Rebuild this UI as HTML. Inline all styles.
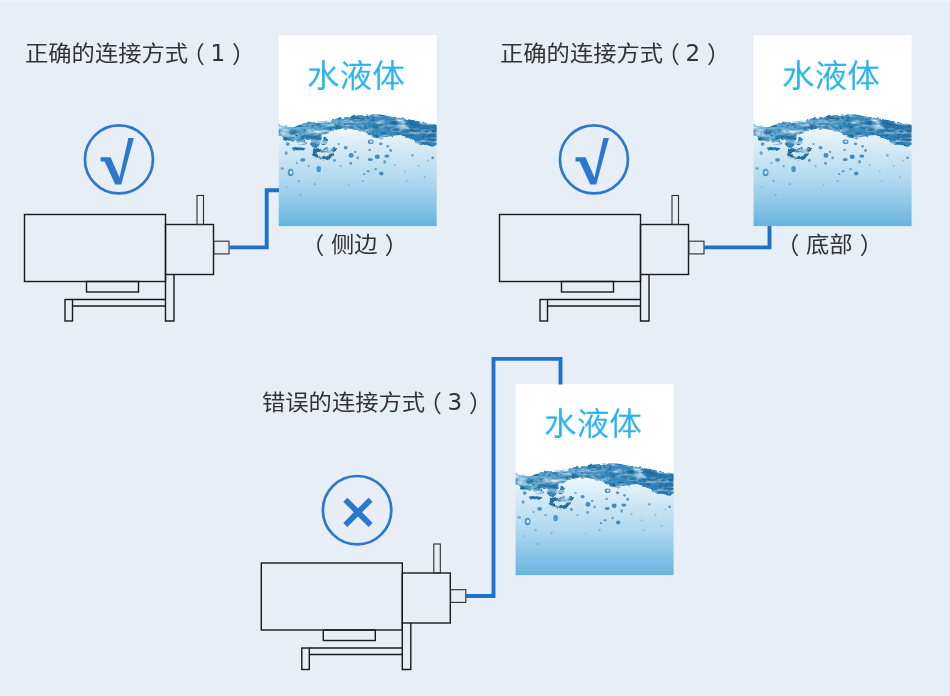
<!DOCTYPE html>
<html lang="zh-CN">
<head>
<meta charset="utf-8">
<title>连接方式</title>
<style>
html,body{margin:0;padding:0;}
body{width:950px;height:696px;overflow:hidden;background:#e8eef6;position:relative;
  font-family:"Liberation Sans","Noto Sans CJK SC",sans-serif;color:#333;}
#topstrip{position:absolute;left:0;top:0;width:950px;height:2px;background:#edf1f8;}
svg#art{position:absolute;left:0;top:0;}
.xx{font-family:"DejaVu Sans",sans-serif;font-weight:bold;font-size:50px;fill:#2b78d0;text-anchor:middle;}
.title,.cap,.liq{will-change:transform;}
.title{position:absolute;font-size:23.3px;line-height:30px;white-space:nowrap;color:#333;letter-spacing:0;}
.zh{display:inline-block;transform:scaleY(0.93);transform-origin:50% 55%;}
.lp{display:inline-block;margin-left:-6.5px;position:relative;top:1.5px;}
.dg{display:inline-block;font-family:"DejaVu Sans",sans-serif;font-size:23px;margin-left:5.5px;}
.rp{display:inline-block;margin-left:7px;position:relative;top:1.5px;}
.cl{display:inline-block;margin-right:6.7px;position:relative;top:2px;}
.cr{display:inline-block;margin-left:7.1px;position:relative;top:2px;}
.cap{position:absolute;font-size:23.3px;line-height:30px;white-space:nowrap;color:#333;}
.liq{position:absolute;font-size:32.7px;transform:scaleY(0.965);transform-origin:50% 85%;line-height:40px;width:158px;text-align:center;color:#2bb3ee;white-space:nowrap;}
</style>
</head>
<body>
<div id="topstrip"></div>
<svg id="art" width="950" height="696" viewBox="0 0 950 696">
  <defs>
    <linearGradient id="wg" x1="0" y1="0" x2="0" y2="1">
      <stop offset="0" stop-color="#ffffff"/>
      <stop offset="0.45" stop-color="#ffffff"/>
      <stop offset="0.52" stop-color="#e6f3fa"/>
      <stop offset="0.60" stop-color="#d3e9f6"/>
      <stop offset="0.76" stop-color="#b0d8ef"/>
      <stop offset="0.89" stop-color="#8ac5e7"/>
      <stop offset="1" stop-color="#66b3de"/>
    </linearGradient>
    <linearGradient id="wv" x1="0" y1="0" x2="1" y2="0">
      <stop offset="0" stop-color="#7cb9dc"/>
      <stop offset="0.3" stop-color="#559fcb"/>
      <stop offset="0.6" stop-color="#3d8ec0"/>
      <stop offset="0.85" stop-color="#2f80b6"/>
      <stop offset="1" stop-color="#2473a9"/>
    </linearGradient>
    <filter id="tex" x="-5%" y="-20%" width="110%" height="150%" color-interpolation-filters="sRGB">
      <feTurbulence type="fractalNoise" baseFrequency="0.07 0.2" numOctaves="3" seed="7" result="n"/>
      <feColorMatrix in="n" type="matrix" values="0 0 0 0 0  0 0 0 0 0  0 0 0 0 0  3 0 0 0 -1.45" result="na"/>
      <feFlood flood-color="#d4ebf6" result="w"/>
      <feComposite in="w" in2="na" operator="in" result="hl"/>
      <feColorMatrix in="n" type="matrix" values="0 0 0 0 0  0 0 0 0 0  0 0 0 0 0  0 -3 0 0 1.6" result="da"/>
      <feFlood flood-color="#14608f" result="d"/>
      <feComposite in="d" in2="da" operator="in" result="dk"/>
      <feTurbulence type="fractalNoise" baseFrequency="0.32 0.4" numOctaves="2" seed="11" result="n2"/>
      <feColorMatrix in="n2" type="matrix" values="0 0 0 0 0  0 0 0 0 0  0 0 0 0 0  0 0 -4 0 1.75" result="sa"/>
      <feFlood flood-color="#155f92" result="sd"/>
      <feComposite in="sd" in2="sa" operator="in" result="sp"/>
      <feMerge result="m"><feMergeNode in="SourceGraphic"/><feMergeNode in="dk"/><feMergeNode in="sp"/><feMergeNode in="hl"/></feMerge>
      <feComposite in="m" in2="SourceGraphic" operator="in"/>
    </filter>
    <filter id="rough" x="-5%" y="-20%" width="110%" height="150%">
      <feTurbulence type="fractalNoise" baseFrequency="0.15" numOctaves="2" seed="3" result="n"/>
      <feDisplacementMap in="SourceGraphic" in2="n" scale="5" xChannelSelector="R" yChannelSelector="G"/>
    </filter>
    <clipPath id="tc"><rect x="0" y="0" width="158" height="191"/></clipPath>
    <g id="tank">
      <rect x="0" y="0" width="158" height="191" fill="url(#wg)"/>
      <g clip-path="url(#tc)">
      <g filter="url(#tex)">
      <g filter="url(#rough)">
      <path d="M-4.0 89.4 C-3.3 89.4 -2.8 89.2 0.0 89.6 C2.8 90.0 9.0 91.9 13.0 91.6 C17.0 91.3 18.3 88.9 24.0 88.0 C29.7 87.1 40.3 86.9 47.0 86.0 C53.7 85.1 58.7 83.5 64.0 82.5 C69.3 81.5 73.2 80.8 79.0 80.2 C84.8 79.7 93.2 79.0 99.0 79.2 C104.8 79.4 109.0 80.7 114.0 81.5 C119.0 82.3 124.0 83.1 129.0 84.0 C134.0 84.9 139.2 86.1 144.0 87.0 C148.8 87.9 154.8 89.0 158.0 89.6 C161.2 90.2 162.2 90.3 163.0 90.5 L163.0 110.6 C162.2 110.6 160.3 110.6 158.0 110.6 C155.7 110.6 152.2 110.8 149.0 110.4 C145.8 110.0 142.0 109.4 139.0 108.2 C136.0 107.0 133.8 104.5 131.0 103.2 C128.2 101.9 125.2 100.5 122.0 100.2 C118.8 99.9 115.8 101.1 112.0 101.5 C108.2 101.9 102.8 103.0 99.0 102.5 C95.2 102.0 92.3 99.7 89.0 98.5 C85.7 97.3 82.8 96.3 79.0 95.5 C75.2 94.7 69.8 93.5 66.0 93.5 C62.2 93.5 59.0 94.7 56.0 95.5 C53.0 96.3 50.7 97.3 48.0 98.5 C45.3 99.7 43.0 101.4 40.0 102.5 C37.0 103.6 33.3 104.6 30.0 105.0 C26.7 105.4 23.3 105.3 20.0 105.0 C16.7 104.7 13.3 103.7 10.0 103.0 C6.7 102.3 2.3 101.3 0.0 101.0 C-2.3 100.7 -3.3 101.0 -4.0 101.0 Z" fill="url(#wv)"/>
      <!-- drips on the left -->
      <path d="M31 100 C35 99 40 100 42 103 C43 107 41 111 38 113 C35 114 33 111 32 108 C31 105 30 102 31 100 Z" fill="#3a87ba"/>
      <path d="M13 112.500 C17 111 23 111.500 26.500 113 C27 115 23 116.500 19 116.500 C16 116.500 13 115 13 112.500 Z" fill="#3a87ba"/>
      <path d="M3 101 C8 100 14 102 17 106 C14 108 8 107 4 105 Z" fill="#4b95c4"/>
      <path d="M33 116 C36 112.500 44 112 50 113.500 C54 114 56.500 112 58 113.500 C58 118 55 122.500 50 124.500 C45 126 38 125 35 122 C33 120 32.500 118 33 116 Z M39 117.500 C38 119.500 40 121.500 44 121.500 C48 121.500 51 119.500 51.500 117.500 C49 116 42 116 39 117.500 Z" fill="#25739f" fill-rule="evenodd"/>
      <path d="M17 105 C21 104 27 105 29 108 C27 111 22 111 19 109 Z" fill="#3a87ba"/>
      <path d="M44 103 C47 102 50 104 50 107 C49 110 46 111 44 109 C43 107 43 105 44 103 Z" fill="#3f8cbe"/>
      </g>
      </g>
      <g fill="#3684b8">
        <ellipse cx="9.0" cy="109.0" rx="2.0" ry="1.8" opacity="0.80"/>
        <ellipse cx="7.5" cy="118.0" rx="1.6" ry="1.8" opacity="0.70"/>
        <ellipse cx="24.0" cy="124.8" rx="2.5" ry="1.8" opacity="0.85"/>
        <ellipse cx="67.0" cy="112.7" rx="2.0" ry="1.7" opacity="0.85"/>
        <ellipse cx="72.4" cy="120.3" rx="2.5" ry="2.3" opacity="0.90"/>
        <ellipse cx="76.5" cy="116.8" rx="1.2" ry="1.2" opacity="0.70"/>
        <ellipse cx="55.8" cy="125.3" rx="1.4" ry="1.4" opacity="0.80"/>
        <ellipse cx="40.0" cy="134.0" rx="2.3" ry="3.2" opacity="0.80"/>
        <ellipse cx="12.0" cy="137.4" rx="2.9" ry="3.8" opacity="0.85"/>
        <ellipse cx="12.3" cy="137.2" rx="1.4" ry="1.9" fill="#d6ebf6"/>
        <ellipse cx="3.5" cy="133.4" rx="1.8" ry="1.3" opacity="0.60"/>
        <ellipse cx="72.0" cy="128.3" rx="1.4" ry="1.4" opacity="0.75"/>
        <ellipse cx="18.0" cy="128.0" rx="1.1" ry="1.1" opacity="0.60"/>
        <ellipse cx="92.0" cy="106.7" rx="2.9" ry="2.3" opacity="0.90"/>
        <ellipse cx="92.3" cy="106.5" rx="1.4" ry="1.2" fill="#d6ebf6"/>
        <ellipse cx="102.0" cy="108.7" rx="1.8" ry="1.4" opacity="0.80"/>
        <ellipse cx="109.0" cy="111.2" rx="1.4" ry="1.4" opacity="0.75"/>
        <ellipse cx="112.0" cy="115.3" rx="1.4" ry="1.6" opacity="0.75"/>
        <ellipse cx="91.0" cy="114.8" rx="1.3" ry="1.2" opacity="0.70"/>
        <ellipse cx="98.6" cy="121.6" rx="2.5" ry="2.3" opacity="0.95"/>
        <ellipse cx="108.2" cy="121.0" rx="2.5" ry="1.7" opacity="0.90"/>
        <ellipse cx="91.6" cy="124.3" rx="2.5" ry="1.5" opacity="0.90"/>
        <ellipse cx="106.0" cy="126.8" rx="1.4" ry="1.8" opacity="0.70"/>
        <ellipse cx="133.8" cy="120.3" rx="1.4" ry="1.4" opacity="0.55"/>
        <ellipse cx="154.0" cy="122.8" rx="1.4" ry="1.4" opacity="0.75"/>
        <ellipse cx="149.5" cy="125.3" rx="1.0" ry="1.0" opacity="0.40"/>
        <ellipse cx="97.0" cy="134.0" rx="1.3" ry="1.2" opacity="0.70"/>
        <ellipse cx="89.5" cy="136.2" rx="1.8" ry="1.1" opacity="0.70"/>
        <ellipse cx="102.6" cy="138.4" rx="2.2" ry="2.0" opacity="0.90"/>
        <ellipse cx="85.5" cy="139.0" rx="1.2" ry="1.2" opacity="0.70"/>
        <ellipse cx="79.0" cy="122.8" rx="1.3" ry="1.4" opacity="0.70"/>
        <ellipse cx="126.0" cy="136.5" rx="1.0" ry="1.0" opacity="0.35"/>
        <ellipse cx="48.0" cy="113.0" rx="1.4" ry="1.4" opacity="0.70"/>
        <ellipse cx="60.0" cy="109.0" rx="1.2" ry="1.2" opacity="0.60"/>
        <ellipse cx="30.0" cy="131.0" rx="1.2" ry="1.2" opacity="0.60"/>
        <ellipse cx="62.0" cy="131.0" rx="1.1" ry="1.1" opacity="0.50"/>
        <ellipse cx="116.0" cy="130.0" rx="1.0" ry="1.0" opacity="0.45"/>
        <ellipse cx="20.0" cy="146.0" rx="1.2" ry="1.2" opacity="0.50"/>
        <ellipse cx="36.0" cy="149.0" rx="1.1" ry="1.1" opacity="0.45"/>
        <ellipse cx="140.0" cy="131.0" rx="1.0" ry="1.0" opacity="0.40"/>
        <ellipse cx="146.0" cy="142.0" rx="1.0" ry="1.0" opacity="0.40"/>
        <ellipse cx="128.0" cy="146.0" rx="1.0" ry="1.0" opacity="0.35"/>
        <ellipse cx="22.0" cy="160.0" rx="1.1" ry="1.1" opacity="0.40"/>
        <ellipse cx="8.0" cy="152.0" rx="0.9" ry="0.9" opacity="0.35"/>
        <ellipse cx="84.0" cy="146.0" rx="1.1" ry="1.1" opacity="0.45"/>
        <ellipse cx="70.0" cy="150.0" rx="0.9" ry="0.9" opacity="0.35"/>
      </g>
      </g>
    </g>
    <g id="pump" fill="none" stroke="#1a1a1a" stroke-width="1.4">
      <rect x="24.5" y="214.5" width="141" height="67"/>
      <rect x="165.5" y="224.5" width="48" height="50"/>
      <rect x="197" y="195.5" width="6.5" height="29" stroke-width="1.1" stroke="#2e2e2e"/>
      <rect x="213.800" y="241.200" width="15.200" height="12.700" stroke-width="1.1" stroke="#2e2e2e"/>
      <rect x="86.5" y="281.5" width="52" height="10.5"/>
      <path d="M165.5 274.5 V321 H174 V274.5"/>
      <path d="M72.5 299.5 H165.5 M72.5 306 H165.5"/>
      <rect x="65" y="299.5" width="7.5" height="21.5"/>
    </g>
  </defs>

  <!-- panel 1 -->
  <use href="#tank" x="278.7" y="35.1"/>
  <use href="#pump"/>
  <path d="M229 247.4 H266.7 V190.2 H279" fill="none" stroke="#1e70cd" stroke-width="3.9"/>
  <circle cx="118.950" cy="159.400" r="34" fill="none" stroke="#2b78d0" stroke-width="2.7"/>
  <path id="ck" d="M100.56 157.31 H110.56 L119.5 177.5 L128.38 138.11 H133.9 L121.25 184.44 H115.28 L104.59 161.45 H100.56 Z" fill="#2b78d0"><title>√</title></path>

  <!-- panel 2 -->
  <use href="#tank" x="753.6" y="35.1"/>
  <use href="#pump" x="475"/>
  <path d="M704 247.4 H769.5 V226" fill="none" stroke="#1e70cd" stroke-width="3.9"/>
  <circle cx="593.950" cy="159.400" r="34" fill="none" stroke="#2b78d0" stroke-width="2.7"/>
  <use href="#ck" x="475"/>

  <!-- panel 3 -->
  <use href="#tank" x="515.6" y="384.1"/>
  <use href="#pump" x="236.800" y="348.500"/>
  <path d="M465.600 596 H493.500 V358.900 H560.500 V384.500" fill="none" stroke="#1e70cd" stroke-width="3.9"/>
  <circle cx="357.100" cy="510.200" r="34.200" fill="none" stroke="#2b78d0" stroke-width="2.7"/>
  <text class="xx" x="357.900" y="527.800">×</text>
</svg>

<div class="title" style="left:25px;top:38px;"><span class="zh">正确的连接方式</span><span class="lp">（</span><span class="dg">1</span><span class="rp">）</span></div>
<div class="title" style="left:500px;top:38px;"><span class="zh">正确的连接方式</span><span class="lp">（</span><span class="dg">2</span><span class="rp">）</span></div>
<div class="title" style="left:262px;top:386.5px;"><span class="zh">错误的连接方式</span><span class="lp">（</span><span class="dg">3</span><span class="rp">）</span></div>

<div class="liq" style="left:277.25px;top:56px;">水液体</div>
<div class="liq" style="left:752.25px;top:56px;">水液体</div>
<div class="liq" style="left:513.5px;top:404.4px;">水液体</div>

<div class="cap" style="left:300.5px;top:228.500px;"><span class="cl">（</span><span class="zh">侧边</span><span class="cr">）</span></div>
<div class="cap" style="left:775.5px;top:228.500px;"><span class="cl">（</span><span class="zh">底部</span><span class="cr">）</span></div>
</body>
</html>
